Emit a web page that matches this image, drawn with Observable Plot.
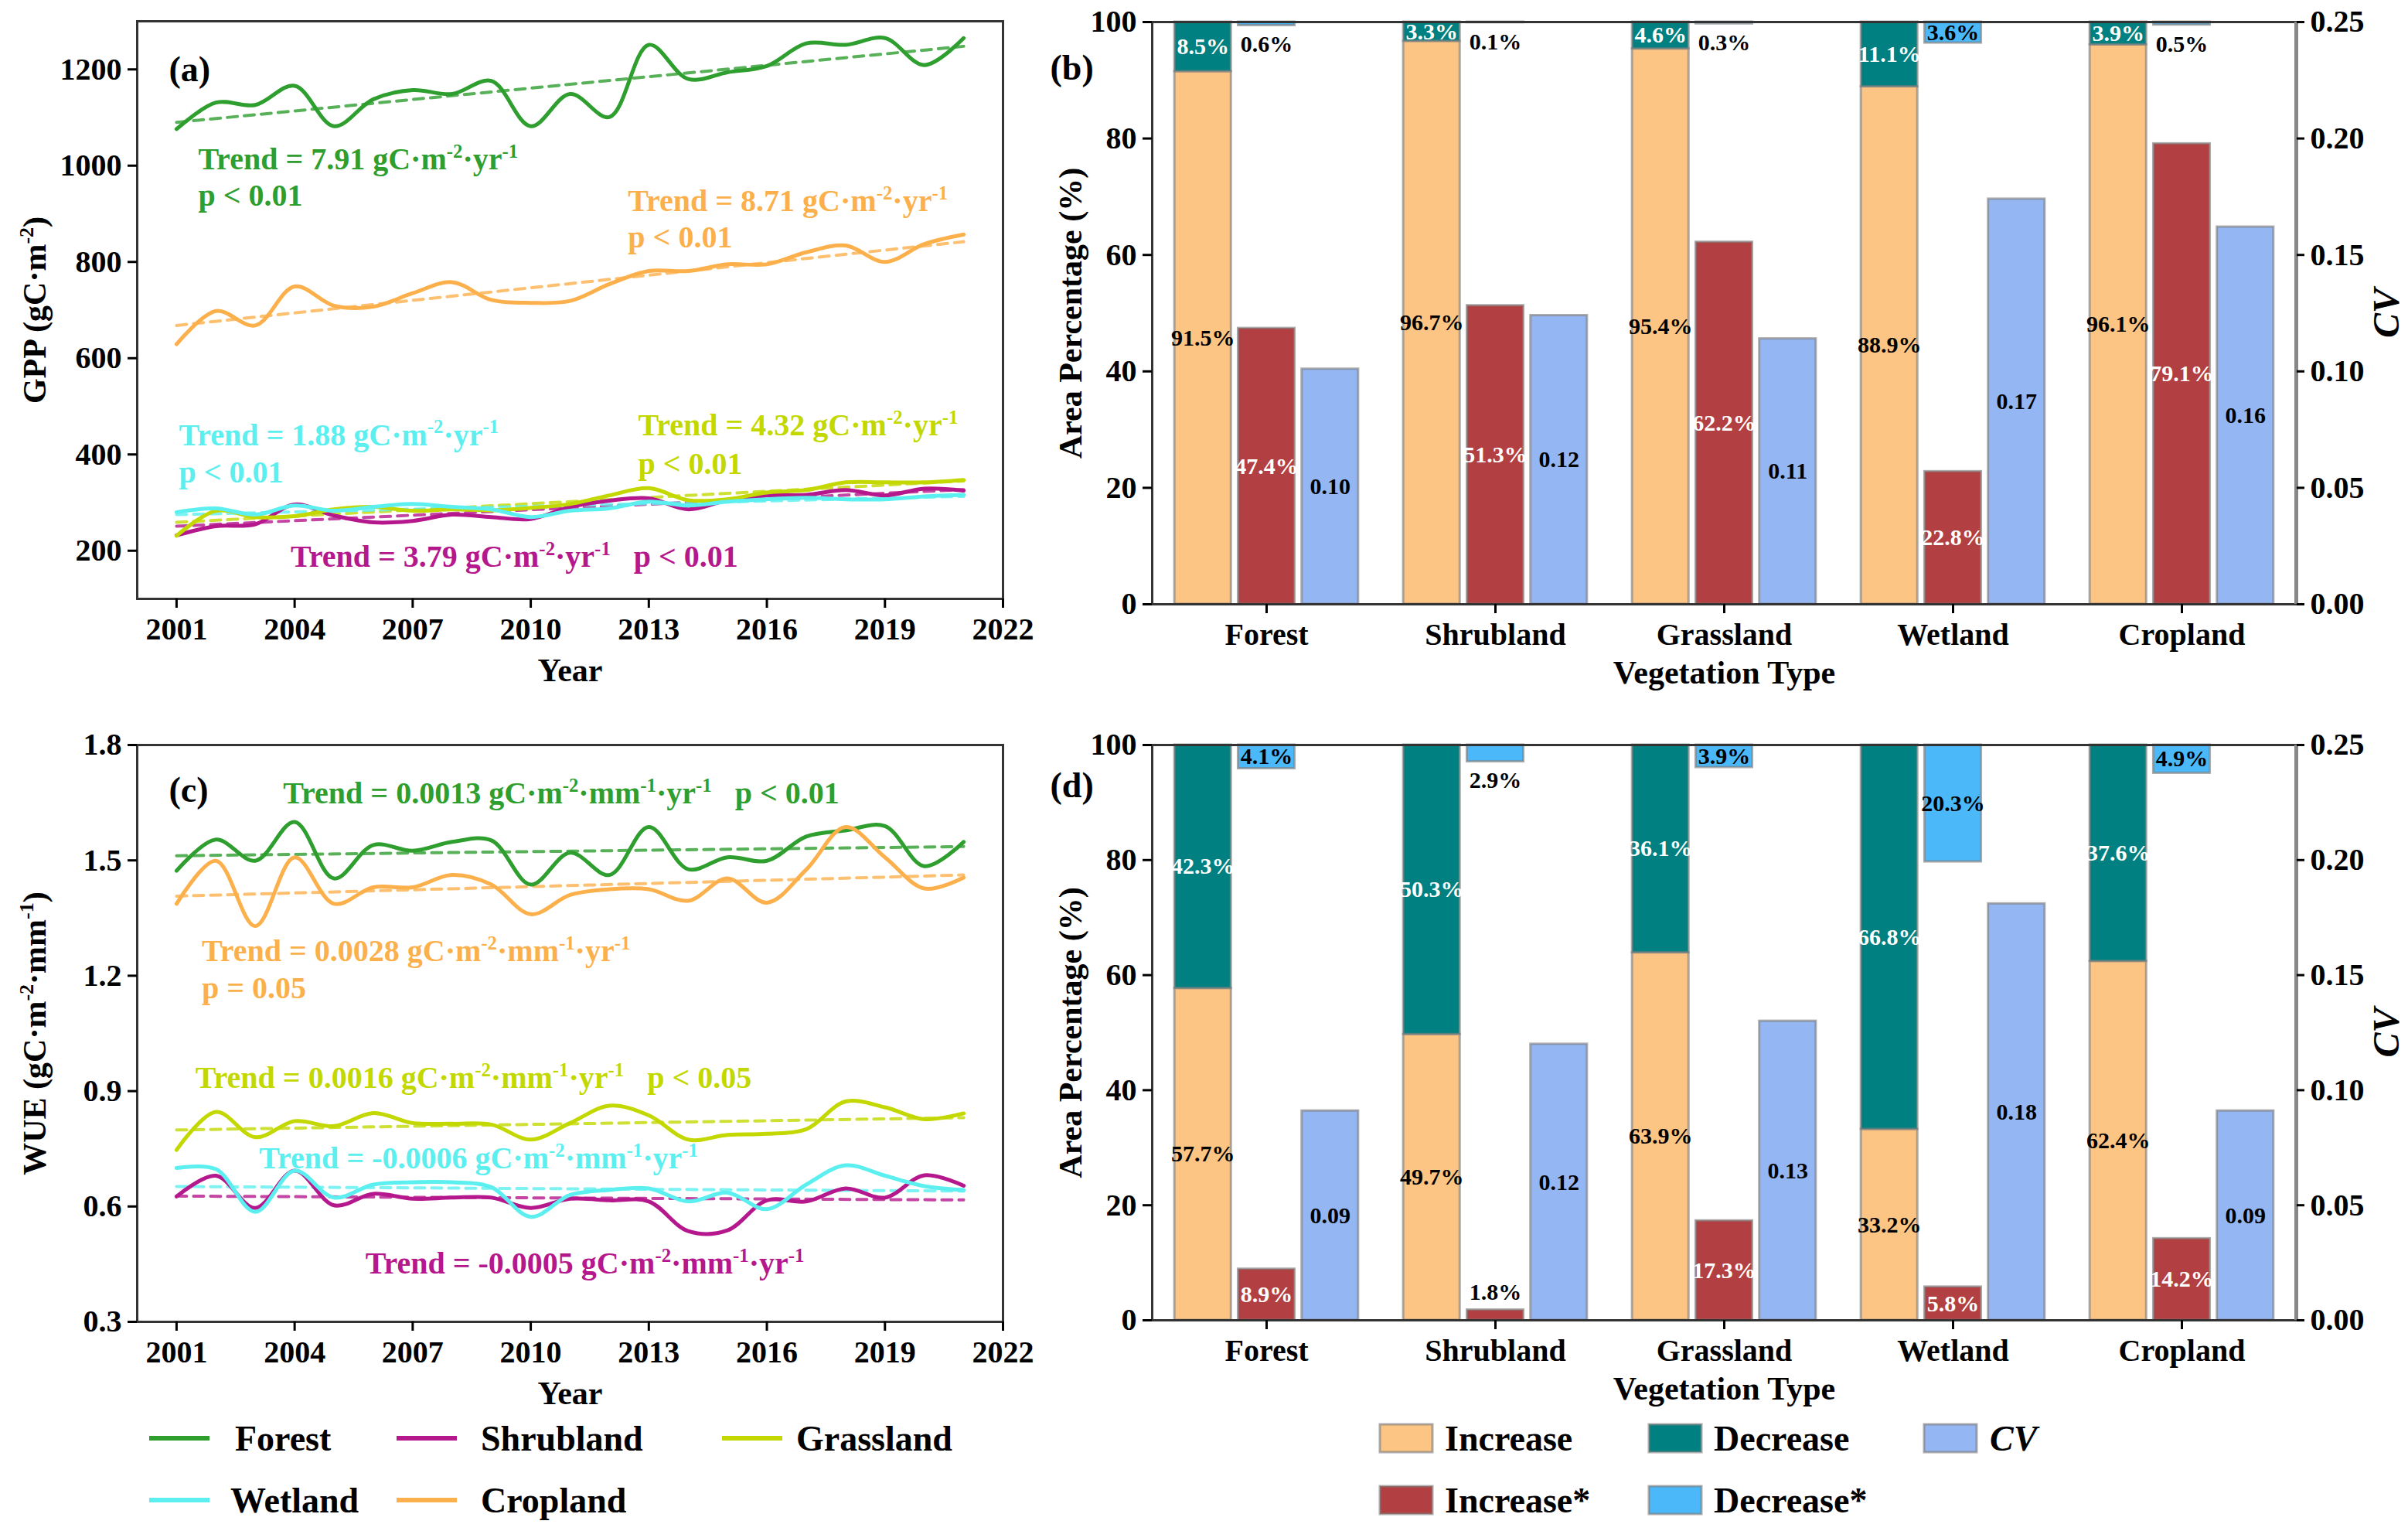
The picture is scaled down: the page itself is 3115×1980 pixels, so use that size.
<!DOCTYPE html>
<html>
<head>
<meta charset="utf-8">
<script src="https://cdn.jsdelivr.net/npm/d3@7"></script>
<script src="https://cdn.jsdelivr.net/npm/@observablehq/plot@0.6"></script>
<style>
  html, body { margin: 0; padding: 0; background: #fff; }
  #root { position: relative; width: 3115px; height: 1980px; background: #fff; overflow: hidden; }
  .panel { position: absolute; }
  .panel svg { max-width: none !important; }
</style>
</head>
<body>
<div id="root"></div>
<script>
// ---------------- DATA ----------------
const years = [2001,2002,2003,2004,2005,2006,2007,2008,2009,2010,2011,2012,2013,2014,2015,2016,2017,2018,2019,2020,2021];
const yearTicks = [2001,2004,2007,2010,2013,2016,2019,2022];
const vegTypes = ["Forest","Shrubland","Grassland","Wetland","Cropland"];
const lineColors = ["#2E9E2E","#B5178C","#C2D800","#5CEFEF","#FBB04C"];

// GPP (gC m-2)
const gppForest    = [1076,1131,1126,1166,1082,1138,1157,1149,1176,1082,1149,1101,1251,1180,1194,1207,1254,1251,1265,1209,1265];
const gppShrubland = [232,251,255,296,273,259,262,275,270,266,291,304,309,286,305,315,316,326,315,329,325];
const gppGrassland = [231,283,270,272,286,291,283,286,284,289,297,315,330,305,307,321,326,342,342,342,347];
const gppWetland   = [280,288,275,294,283,291,297,291,286,270,283,288,302,294,302,307,310,307,307,313,316];
const gppCropland  = [629,698,668,749,709,707,735,758,721,715,719,754,781,781,795,795,820,834,800,837,857];
// GPP trend line ends (2001, 2021)
const gppTrendForest = [1090,1248], gppTrendShrubland = [251,327], gppTrendGrassland = [259,345],
      gppTrendWetland = [275,313], gppTrendCropland = [668,842];
const gppTicks = [200,400,600,800,1000,1200];

// WUE (gC m-2 mm-1)
const wueForest    = [1.473,1.554,1.499,1.600,1.453,1.540,1.525,1.548,1.552,1.437,1.520,1.462,1.587,1.477,1.508,1.499,1.562,1.578,1.589,1.485,1.548];
const wueShrubland = [0.626,0.680,0.596,0.693,0.603,0.633,0.620,0.623,0.623,0.596,0.620,0.616,0.613,0.536,0.538,0.616,0.613,0.647,0.623,0.681,0.654];
const wueGrassland = [0.747,0.846,0.780,0.822,0.809,0.843,0.817,0.815,0.813,0.774,0.817,0.862,0.837,0.774,0.786,0.789,0.801,0.873,0.858,0.827,0.842];
const wueWetland   = [0.700,0.697,0.586,0.693,0.623,0.657,0.663,0.663,0.650,0.573,0.630,0.643,0.647,0.613,0.636,0.593,0.657,0.707,0.680,0.653,0.643];
const wueCropland  = [1.387,1.499,1.329,1.508,1.387,1.430,1.430,1.462,1.437,1.360,1.410,1.425,1.425,1.395,1.453,1.390,1.476,1.587,1.508,1.427,1.455];
const wueTrendForest = [1.512,1.536], wueTrendShrubland = [0.627,0.617], wueTrendGrassland = [0.799,0.831],
      wueTrendWetland = [0.652,0.640], wueTrendCropland = [1.407,1.462];
const wueTicks = [0.3,0.6,0.9,1.2,1.5,1.8];

// Area percentages (%) and CV
const barSeries = ["Increase","Decrease","CV","Increase*","Decrease*"];
const barColors = ["#FDC583","#008080","#94B6F2","#B23F41","#4BB8F9"];
const gppIncrease    = [91.5,96.7,95.4,88.9,96.1];
const gppDecrease    = [8.5,3.3,4.6,11.1,3.9];
const gppIncreaseSig = [47.4,51.3,62.2,22.8,79.1];
const gppDecreaseSig = [0.6,0.1,0.3,3.6,0.5];
const gppCV          = [0.101,0.124,0.114,0.174,0.162];
const wueIncrease    = [57.7,49.7,63.9,33.2,62.4];
const wueDecrease    = [42.3,50.3,36.1,66.8,37.6];
const wueIncreaseSig = [8.9,1.8,17.3,5.8,14.2];
const wueDecreaseSig = [4.1,2.9,3.9,20.3,4.9];
const wueCV          = [0.091,0.120,0.130,0.181,0.091];
const pctTicks = [0,20,40,60,80,100];
const cvTicks  = [0,0.05,0.10,0.15,0.20,0.25];

// ---------------- HELPERS ----------------
const FONT = "'Liberation Serif', Tinos, 'Times New Roman', 'DejaVu Serif', 'Noto Serif', serif";
const root = document.getElementById("root");
function place(node, left, top, w, h) {
  const div = document.createElement("div");
  div.className = "panel";
  div.style.left = left + "px"; div.style.top = top + "px";
  div.style.width = w + "px"; div.style.height = h + "px";
  div.appendChild(node);
  root.appendChild(div);
  superscriptify(node);
}
// turn "^{...}" markers into raised, smaller tspans
function superscriptify(svg) {
  svg.querySelectorAll("text").forEach(t => {
    const s = t.textContent;
    if (!s.includes("^{")) return;
    const fs = parseFloat(getComputedStyle(t).fontSize) || 40;
    const shift = fs * 0.38;
    const parts = s.split(/\^\{([^}]*)\}/);
    while (t.firstChild) t.removeChild(t.firstChild);
    let raised = false;
    parts.forEach((p, k) => {
      if (!p) return;
      const ts = document.createElementNS("http://www.w3.org/2000/svg", "tspan");
      if (k % 2 === 1) {
        ts.setAttribute("font-size", (fs * 0.62) + "px");
        ts.setAttribute("dy", raised ? 0 : -shift);
        raised = true;
      } else if (raised) {
        ts.setAttribute("dy", shift);
        raised = false;
      }
      ts.textContent = p;
      t.appendChild(ts);
    });
  });
}
const baseStyle = {fontFamily: FONT, fontSize: "40px", fontWeight: "bold", background: "transparent", overflow: "visible", color: "#000"};

function linePanel(o) {
  const data = [], tdata = [];
  vegTypes.forEach((t, k) => {
    o.series[k].forEach((v, j) => data.push({type: t, year: years[j], value: v}));
    tdata.push({type: t, year: years[0], value: o.trends[k][0]});
    tdata.push({type: t, year: years[years.length - 1], value: o.trends[k][1]});
  });
  return Plot.plot({
    width: 1340, height: o.height,
    marginLeft: 177, marginRight: 43, marginTop: 27, marginBottom: o.marginBottom,
    style: baseStyle,
    x: {domain: [2000, 2022]},
    y: {domain: o.yDomain},
    color: {domain: vegTypes, range: lineColors},
    marks: [
      Plot.line(tdata, {x: "year", y: "value", z: "type", stroke: "type", strokeWidth: 4, strokeDasharray: "13,9", strokeOpacity: 0.8}),
      Plot.line(data, {x: "year", y: "value", z: "type", stroke: "type", strokeWidth: 5, curve: "catmull-rom"}),
      Plot.text(o.notes, {x: "x", y: "y", text: "text", fill: "type", textAnchor: "start", lineAnchor: "middle", fontSize: 40, fontFamily: FONT}),
      Plot.frame({stroke: "#333", strokeWidth: 3}),
      Plot.axisX({ticks: yearTicks, tickFormat: "d", tickSize: 12, tickPadding: 12, strokeWidth: 3, label: null, fontFamily: FONT}),
      Plot.axisY({ticks: o.yTicks, tickFormat: o.yFormat, tickSize: 12, tickPadding: 8, strokeWidth: 3, label: null, fontFamily: FONT}),
      Plot.text([o.tag], {frameAnchor: "top-left", dx: 41, dy: o.tagDy, textAnchor: "start", lineAnchor: "middle", fontSize: 46, fontFamily: FONT}),
      Plot.text(["Year"], {frameAnchor: "bottom", dy: 93, lineAnchor: "middle", textAnchor: "middle", fontSize: 42, fontFamily: FONT}),
      Plot.text([o.yLabel], {frameAnchor: "left", dx: -132, rotate: -90, textAnchor: "middle", lineAnchor: "middle", fontSize: 42, fontFamily: FONT})
    ]
  });
}

const barW = 0.247, barStep = 0.278, cvFactor = 100 / 0.25;
const pct = d3.format(".1f");
function barPanel(o) {
  const rows = [], labels = [];
  vegTypes.forEach((t, i) => {
    const xc = s => i + s * barStep;
    const add = (series, s, y1, y2) => rows.push({series, x1: xc(s) - barW / 2, x2: xc(s) + barW / 2, y1, y2});
    add("Increase", -1, 0, o.inc[i]);
    add("Decrease", -1, o.inc[i], 100);
    add("Increase*", 0, 0, o.incS[i]);
    add("Decrease*", 0, 100 - o.decS[i], 100);
    add("CV", 1, 0, o.cv[i] * cvFactor);
    labels.push({x: xc(-1), y: o.inc[i] / 2, text: pct(o.inc[i]) + "%", white: false});
    labels.push({x: xc(-1), y: o.inc[i] + o.dec[i] / 2, text: pct(o.dec[i]) + "%", white: true});
    if (o.incS[i] < 3) labels.push({x: xc(0), y: o.incS[i] + 3, text: pct(o.incS[i]) + "%", white: false});
    else labels.push({x: xc(0), y: o.incS[i] / 2, text: pct(o.incS[i]) + "%", white: true});
    if (o.decS[i] < 3) labels.push({x: xc(0), y: 100 - o.decS[i] - 3.3, text: pct(o.decS[i]) + "%", white: false});
    else labels.push({x: xc(0), y: 100 - o.decS[i] / 2, text: pct(o.decS[i]) + "%", white: false});
    labels.push({x: xc(1), y: o.cv[i] * cvFactor / 2, text: o.cv[i].toFixed(2), white: false});
  });
  return Plot.plot({
    width: 1775, height: o.height,
    marginLeft: 150, marginRight: 145, marginTop: o.marginTop, marginBottom: o.marginBottom,
    style: baseStyle,
    x: {domain: [-0.5, 4.5]},
    y: {domain: [0, 100]},
    color: {domain: barSeries, range: barColors},
    marks: [
      Plot.rect(rows, {x1: "x1", x2: "x2", y1: "y1", y2: "y2", fill: "series", stroke: "#808080", strokeOpacity: 0.65, strokeWidth: 3}),
      Plot.text(labels.filter(d => d.white), {x: "x", y: "y", text: "text", fill: "white", fontSize: 30, fontFamily: FONT}),
      Plot.text(labels.filter(d => !d.white), {x: "x", y: "y", text: "text", fill: "black", fontSize: 30, fontFamily: FONT}),
      Plot.frame({stroke: "#333", strokeWidth: 3}),
      Plot.ruleX([4.5], {stroke: "#888", strokeWidth: 5}),
      Plot.axisX({ticks: vegTypes.map((d, i) => i), tickFormat: i => vegTypes[i], tickSize: 12, tickPadding: 12, strokeWidth: 3, label: null, fontFamily: FONT}),
      Plot.axisY({ticks: pctTicks, tickSize: 12, tickPadding: 8, strokeWidth: 3, label: null, fontFamily: FONT}),
      Plot.axisY({anchor: "right", ticks: cvTicks.map(c => c * cvFactor), tickFormat: d => (d / cvFactor).toFixed(2), tickSize: 10, tickPadding: 8, strokeWidth: 3, label: null, fontFamily: FONT}),
      Plot.text([o.tag], {frameAnchor: "top-left", dx: -132, dy: o.tagDy, textAnchor: "start", lineAnchor: "middle", fontSize: 46, fontFamily: FONT}),
      Plot.text(["Vegetation Type"], {frameAnchor: "bottom", dy: 89, lineAnchor: "middle", textAnchor: "middle", fontSize: 42, fontFamily: FONT}),
      Plot.text(["Area Percentage (%)"], {frameAnchor: "left", dx: -105, rotate: -90, textAnchor: "middle", lineAnchor: "middle", fontSize: 42, fontFamily: FONT}),
      Plot.text(["CV"], {frameAnchor: "right", dx: 117, rotate: -90, textAnchor: "middle", lineAnchor: "middle", fontSize: 48, fontStyle: "italic", fontFamily: FONT})
    ]
  });
}

// ---------------- PANELS ----------------
const gppUnit = "gC·m^{-2}·yr^{-1}";
const wueUnit = "gC·m^{-2}·mm^{-1}·yr^{-1}";
const gap = "\u00a0\u00a0\u00a0";
const gppNotes = [
  {x: 2001.55, y: 1013, type: "Forest",    text: "Trend = 7.91 " + gppUnit},
  {x: 2001.55, y: 937,  type: "Forest",    text: "p < 0.01"},
  {x: 2012.47, y: 926,  type: "Cropland",  text: "Trend = 8.71 " + gppUnit},
  {x: 2012.47, y: 850,  type: "Cropland",  text: "p < 0.01"},
  {x: 2001.06, y: 440,  type: "Wetland",   text: "Trend = 1.88 " + gppUnit},
  {x: 2001.06, y: 362,  type: "Wetland",   text: "p < 0.01"},
  {x: 2012.73, y: 460,  type: "Grassland", text: "Trend = 4.32 " + gppUnit},
  {x: 2012.73, y: 380,  type: "Grassland", text: "p < 0.01"},
  {x: 2003.9,  y: 187,  type: "Shrubland", text: "Trend = 3.79 " + gppUnit + gap + "p < 0.01"}
];
const wueNotes = [
  {x: 2003.71, y: 1.673, type: "Forest",    text: "Trend = 0.0013 " + wueUnit + gap + "p < 0.01"},
  {x: 2001.64, y: 1.264, type: "Cropland",  text: "Trend = 0.0028 " + wueUnit},
  {x: 2001.64, y: 1.168, type: "Cropland",  text: "p = 0.05"},
  {x: 2001.48, y: 0.934, type: "Grassland", text: "Trend = 0.0016 " + wueUnit + gap + "p < 0.05"},
  {x: 2003.1,  y: 0.724, type: "Wetland",   text: "Trend = -0.0006 " + wueUnit},
  {x: 2005.8,  y: 0.452, type: "Shrubland", text: "Trend = -0.0005 " + wueUnit}
];

place(linePanel({
  height: 900, marginBottom: 126,
  series: [gppForest, gppShrubland, gppGrassland, gppWetland, gppCropland],
  trends: [gppTrendForest, gppTrendShrubland, gppTrendGrassland, gppTrendWetland, gppTrendCropland],
  yDomain: [100, 1300], yTicks: gppTicks, yFormat: "d",
  yLabel: "GPP (gC·m^{-2})", notes: gppNotes, tag: "(a)", tagDy: 63
}), 0, 0, 1340, 900);

place(linePanel({
  height: 894, marginBottom: 121,
  series: [wueForest, wueShrubland, wueGrassland, wueWetland, wueCropland],
  trends: [wueTrendForest, wueTrendShrubland, wueTrendGrassland, wueTrendWetland, wueTrendCropland],
  yDomain: [0.3, 1.8], yTicks: wueTicks, yFormat: ".1f",
  yLabel: "WUE (gC·m^{-2}·mm^{-1})", notes: wueNotes, tag: "(c)", tagDy: 59
}), 0, 936, 1340, 894);

place(barPanel({
  height: 900, marginTop: 28, marginBottom: 119,
  inc: gppIncrease, dec: gppDecrease, incS: gppIncreaseSig, decS: gppDecreaseSig, cv: gppCV,
  tag: "(b)", tagDy: 60
}), 1340, 0, 1775, 900);

place(barPanel({
  height: 894, marginTop: 27, marginBottom: 123,
  inc: wueIncrease, dec: wueDecrease, incS: wueIncreaseSig, decS: wueDecreaseSig, cv: wueCV,
  tag: "(d)", tagDy: 53
}), 1340, 936, 1775, 894);

// ---------------- LEGENDS ----------------
const lineLegend = [
  {label: "Forest",    lx: 193, tx: 304,  row: 0},
  {label: "Shrubland", lx: 513, tx: 622,  row: 0},
  {label: "Grassland", lx: 934, tx: 1030, row: 0},
  {label: "Wetland",   lx: 193, tx: 298,  row: 1},
  {label: "Cropland",  lx: 513, tx: 622,  row: 1}
];
const barLegend = [
  {label: "Increase",  sx: 1785, tx: 1869, row: 0},
  {label: "Decrease",  sx: 2133, tx: 2217, row: 0},
  {label: "CV",        sx: 2489, tx: 2574, row: 0, italic: true},
  {label: "Increase*", sx: 1785, tx: 1869, row: 1},
  {label: "Decrease*", sx: 2133, tx: 2217, row: 1}
];
const rowY = [60, 140];
const leg = d3.select(root).append("svg")
  .attr("width", 3115).attr("height", 180)
  .style("position", "absolute").style("left", "0px").style("top", "1800px")
  .attr("font-family", FONT).attr("font-weight", "bold").attr("font-size", 46);
lineLegend.forEach(d => {
  const c = lineColors[vegTypes.indexOf(d.label)];
  leg.append("line").attr("x1", d.lx).attr("x2", d.lx + 78).attr("y1", rowY[d.row]).attr("y2", rowY[d.row])
    .attr("stroke", c).attr("stroke-width", 6);
  leg.append("text").attr("x", d.tx).attr("y", rowY[d.row]).attr("dy", "0.35em").text(d.label);
});
barLegend.forEach(d => {
  const c = barColors[barSeries.indexOf(d.label)];
  leg.append("rect").attr("x", d.sx).attr("y", rowY[d.row] - 18).attr("width", 68).attr("height", 36)
    .attr("fill", c).attr("stroke", "#808080").attr("stroke-opacity", 0.65).attr("stroke-width", 3);
  leg.append("text").attr("x", d.tx).attr("y", rowY[d.row]).attr("dy", "0.35em")
    .attr("font-style", d.italic ? "italic" : "normal").text(d.label);
});
</script>
</body>
</html>
